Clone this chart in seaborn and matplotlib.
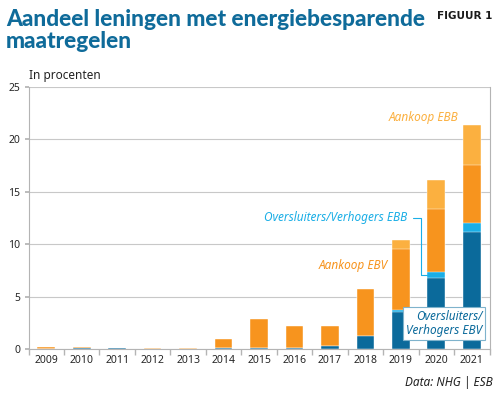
import pandas as pd
import seaborn as sns
import matplotlib.pyplot as plt

jaren = ['2009', '2010', '2011', '2012', '2013', '2014', '2015', '2016', '2017', '2018', '2019', '2020', '2021']
overs_ebv = [0.05, 0.08, 0.08, 0.02, 0.02, 0.08, 0.15, 0.15, 0.25, 1.27, 3.57, 6.81, 11.2]
overs_ebb = [0, 0, 0, 0, 0, 0, 0, 0, 0, 0, 0.15, 0.54, 0.83]
aankoop_ebv = [0.12, 0.12, 0.07, 0.1, 0.1, 0.87, 2.72, 2.05, 2.0, 4.46, 5.8, 6.02, 5.54]
aankoop_ebb = [0, 0.02, 0, 0, 0, 0, 0, 0, 0, 0, 0.86, 2.77, 3.79]

df = pd.DataFrame({'jaar': jaren, 'overs_ebv': overs_ebv, 'overs_ebb': overs_ebb,
                   'aankoop_ebv': aankoop_ebv, 'aankoop_ebb': aankoop_ebb})
# cumulatief, van boven naar beneden tekenen
df['c1'] = df['overs_ebv']
df['c2'] = df['c1'] + df['overs_ebb']
df['c3'] = df['c2'] + df['aankoop_ebv']
df['c4'] = df['c3'] + df['aankoop_ebb']

donkerblauw = '#0b6a9b'
lichtblauw = '#1aaee6'
oranje = '#f7941e'
lichtoranje = '#fbb040'
titelblauw = '#0f6b9a'

sns.set_theme(style="white")
plt.rcParams['font.family'] = ['Noto Sans', 'DejaVu Sans']

fig = plt.figure(figsize=(5, 3.94), dpi=100)
ax = fig.add_axes([0.057, 0.114, 0.922, 0.665])

for col, kleur in [('c4', lichtoranje), ('c3', oranje), ('c2', lichtblauw), ('c1', donkerblauw)]:
    sns.barplot(data=df, x='jaar', y=col, color=kleur, width=0.5, saturation=1,
                edgecolor='white', linewidth=0.3, ax=ax)

ax.set_xlim(-0.5, 12.5)
ax.set_ylim(0, 25)
ax.set_yticks([0, 5, 10, 15, 20, 25])
ax.set_xlabel('')
ax.set_ylabel('')
ax.yaxis.grid(True, color='#c8c8c8', linewidth=0.8)
ax.set_axisbelow(True)
for s in ax.spines.values():
    s.set_color('#b4b4b4')
    s.set_linewidth(0.8)
ax.spines['top'].set_visible(False)
ax.tick_params(axis='y', labelsize=7.5, length=3, color='#b4b4b4', pad=3, left=True)
ax.tick_params(axis='x', labelsize=7.5, length=0, pad=4)
ax.set_xticks([i + 0.5 for i in range(-1, 13)], minor=True)
ax.tick_params(axis='x', which='minor', length=4, color='#b4b4b4', bottom=True)

# labels in de grafiek
ax.text(11.61, 22.1, 'Aankoop EBB', color=lichtoranje, style='italic', fontsize=8.5, ha='right', va='center')
ax.text(10.17, 12.54, 'Oversluiters/Verhogers EBB', color=lichtblauw, style='italic', fontsize=8.5, ha='right', va='center')
ax.text(9.63, 7.96, 'Aankoop EBV', color=oranje, style='italic', fontsize=8.5, ha='right', va='center')
ax.text(12.3, 2.4, 'Oversluiters/\nVerhogers EBV', color=donkerblauw, style='italic', fontsize=8.5,
        ha='right', va='center', multialignment='right', linespacing=1.1,
        bbox=dict(boxstyle='square,pad=0.25', fc='white', ec='#7fb3cc', lw=0.8))
ax.plot([10.33, 10.58, 10.58, 10.74], [12.54, 12.54, 7.05, 7.05], color=lichtblauw, lw=0.8)

fig.text(0.012, 0.922, 'Aandeel leningen met energiebesparende\nmaatregelen', color=titelblauw,
         fontsize=16.3, fontweight='black', family='Lato', va='center', linespacing=1.05)
fig.text(0.985, 0.96, 'FIGUUR 1', fontsize=7.5, fontweight='bold', family='DejaVu Sans',
         ha='right', va='center', color='#1a1a1a')
fig.text(0.058, 0.808, 'In procenten', fontsize=8.5, va='center', color='#222222')
fig.text(0.985, 0.028, 'Data: NHG | ESB', fontsize=8.5, style='italic', ha='right', va='center', color='#222222')

plt.savefig('out.png', dpi=100)
